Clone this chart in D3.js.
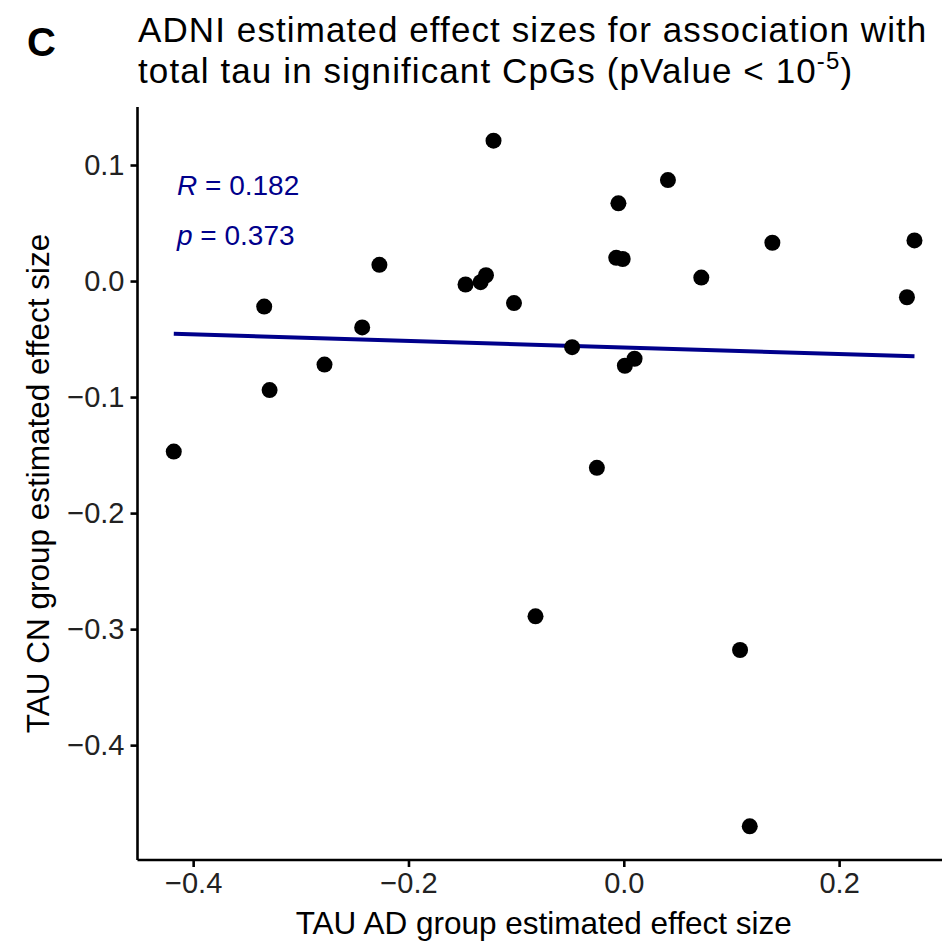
<!DOCTYPE html>
<html>
<head>
<meta charset="utf-8">
<script src="https://cdn.jsdelivr.net/npm/d3@7"></script>
<style>
  body { margin: 0; background: #fff; }
  text { font-family: "Liberation Sans", Arial, sans-serif; }
</style>
</head>
<body>
<div id="chart"></div>
<script>
// TAU AD group effect size (x) vs TAU CN group effect size (y), one per CpG
var adEffect = [-0.418, -0.334, -0.329, -0.278, -0.243, -0.227, -0.147, -0.133, -0.128,
                -0.121, -0.102, -0.082, -0.048, -0.025, -0.007, -0.005, -0.001, 0.001,
                 0.010, 0.041, 0.072, 0.108, 0.117, 0.138, 0.263, 0.270];
var cnEffect = [-0.147, -0.022, -0.094, -0.072, -0.040, 0.014, -0.003, -0.001, 0.005,
                 0.121, -0.019, -0.289, -0.057, -0.161, 0.020, 0.067, 0.019, -0.073,
                -0.067, 0.087, 0.003, -0.318, -0.470, 0.033, -0.014, 0.035];
var xTicks = [-0.4, -0.2, 0.0, 0.2];
var yTicks = [0.1, 0.0, -0.1, -0.2, -0.3, -0.4];
var statR = "0.182", statP = "0.373";

var W = 942, H = 943;
var margin = {left: 137.5, top: 107, right: -8, bottom: 83};

var data = adEffect.map(function(d, i) { return {x: d, y: cnEffect[i]}; });

var svg = d3.select("#chart").append("svg")
    .attr("width", W).attr("height", H);

var x = d3.scaleLinear()
    .domain([-0.4517, 0.303])
    .range([margin.left, W - margin.right]);
var y = d3.scaleLinear()
    .domain([-0.499, 0.150])
    .range([H - margin.bottom, margin.top]);

var fmt = function(d) { return d3.format(".1f")(d).replace("-", "\u2212"); };

// axes
var xAxis = svg.append("g")
    .attr("transform", "translate(0," + (H - margin.bottom) + ")")
    .call(d3.axisBottom(x).tickValues(xTicks).tickFormat(fmt).tickSize(7).tickPadding(5));
var yAxis = svg.append("g")
    .attr("transform", "translate(" + margin.left + ",0)")
    .call(d3.axisLeft(y).tickValues(yTicks).tickFormat(fmt).tickSize(7).tickPadding(6));

[xAxis, yAxis].forEach(function(g) {
  g.select(".domain").attr("stroke", "#000").attr("stroke-width", 2.6);
  g.selectAll(".tick line").attr("stroke", "#000").attr("stroke-width", 2.6);
  g.selectAll(".tick text").attr("fill", "#222").style("font-size", "29px");
});
xAxis.select(".domain").attr("d", "M" + margin.left + ",0H" + (W + 10));
yAxis.select(".domain").attr("d", "M0," + margin.top + "V" + (H - margin.bottom));

// regression line (OLS)
var mx = d3.mean(data, function(d) { return d.x; });
var my = d3.mean(data, function(d) { return d.y; });
var sxy = d3.sum(data, function(d) { return (d.x - mx) * (d.y - my); });
var sxx = d3.sum(data, function(d) { return (d.x - mx) * (d.x - mx); });
var slope = sxy / sxx, icpt = my - slope * mx;
var xr = d3.extent(data, function(d) { return d.x; });

svg.append("line")
    .attr("x1", x(xr[0])).attr("y1", y(icpt + slope * xr[0]))
    .attr("x2", x(xr[1])).attr("y2", y(icpt + slope * xr[1]))
    .attr("stroke", "#00008B")
    .attr("stroke-width", 4);

// points
svg.selectAll(".dot")
    .data(data)
    .enter().append("circle")
    .attr("class", "dot")
    .attr("cx", function(d) { return x(d.x); })
    .attr("cy", function(d) { return y(d.y); })
    .attr("r", 8)
    .attr("fill", "#000");

// stats label
var st = svg.append("g").attr("fill", "#00008B").style("font-size", "28px");
var t1 = st.append("text").attr("x", 177).attr("y", 195);
t1.append("tspan").style("font-style", "italic").text("R");
t1.append("tspan").text(" = " + statR);
var t2 = st.append("text").attr("x", 177).attr("y", 245);
t2.append("tspan").style("font-style", "italic").text("p");
t2.append("tspan").text(" = " + statP);

// axis titles
svg.append("text")
    .attr("x", (margin.left + W) / 2 + 4)
    .attr("y", 934)
    .attr("text-anchor", "middle")
    .style("font-size", "31.5px")
    .text("TAU AD group estimated effect size");
svg.append("text")
    .attr("transform", "translate(49," + ((margin.top + H - margin.bottom) / 2) + ") rotate(-90)")
    .attr("text-anchor", "middle")
    .style("font-size", "31.5px")
    .text("TAU CN group estimated effect size");

// panel letter and title
svg.append("text")
    .attr("x", 27).attr("y", 56)
    .style("font-size", "40px").style("font-weight", "bold")
    .text("C");
svg.append("text")
    .attr("x", 138).attr("y", 42)
    .style("font-size", "35px").style("letter-spacing", "1.1px")
    .text("ADNI estimated effect sizes for association with");
var tl = svg.append("text")
    .attr("x", 138).attr("y", 83)
    .style("font-size", "35px").style("letter-spacing", "1.1px");
tl.append("tspan").text("total tau in significant CpGs (pValue < 10");
tl.append("tspan").attr("dy", -14).style("font-size", "24px").text("-5");
tl.append("tspan").attr("dy", 14).text(")");
</script>
</body>
</html>
